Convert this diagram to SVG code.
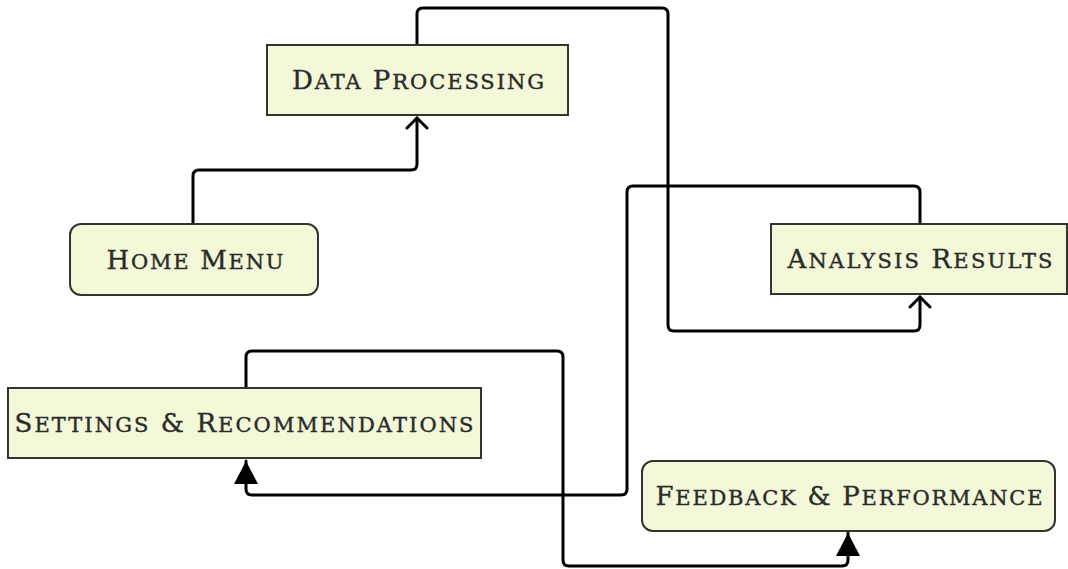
<svg xmlns="http://www.w3.org/2000/svg" width="1068" height="569" viewBox="0 0 1068 569">
  <style>
    .box { fill: #f3f8d8; stroke: #333333; stroke-width: 2; }
    .label { font-family: "DejaVu Serif", "Liberation Serif", serif; font-size: 26px; fill: #2b2b2b; text-anchor: middle; stroke: #2b2b2b; stroke-width: 0.4px; }
    .sc { font-size: 21px; }
    .edge { fill: none; stroke: #000000; stroke-width: 3; stroke-linejoin: round; stroke-linecap: round; }
  </style>
  <defs>
    <marker id="open" viewBox="0 0 24 24" refX="18" refY="12" markerWidth="24" markerHeight="24" markerUnits="userSpaceOnUse" orient="auto">
      <path d="M8,2 L18,12 L8,22" fill="none" stroke="#000" stroke-width="3" stroke-linecap="round" stroke-linejoin="miter"/>
    </marker>
    <marker id="solid" viewBox="0 0 24 26" refX="23" refY="13" markerWidth="24" markerHeight="26" markerUnits="userSpaceOnUse" orient="auto">
      <path d="M23,13 L0,1 L0,25 Z" fill="#000"/>
    </marker>
  </defs>

  <!-- connectors -->
  <g id="connectors">
    <path class="edge" d="M193,224 V176 Q193,170 199,170 H411 Q417,170 417,164 V118" marker-end="url(#open)"/>
    <path class="edge" d="M417,44 V14 Q417,8 423,8 H662 Q668,8 668,14 V325 Q668,331 674,331 H914 Q920,331 920,325 V297" marker-end="url(#open)"/>
    <path class="edge" d="M920,223 V192 Q920,186 914,186 H633 Q627,186 627,192 V489 Q627,495 621,495 H252 Q246,495 246,489 V461" marker-end="url(#solid)"/>
    <path class="edge" d="M246,388 V357 Q246,351 252,351 H557 Q563,351 563,357 V560 Q563,566 569,566 H842 Q848,566 848,560 V533" marker-end="url(#solid)"/>
  </g>

  <g id="data-processing">
    <rect class="box" x="267" y="45" width="301" height="70"/>
    <text class="label" x="418" y="89" textLength="252">D<tspan class="sc">ATA</tspan> P<tspan class="sc">ROCESSING</tspan></text>
  </g>
  <g id="home-menu">
    <rect class="box" x="70" y="224" width="248" height="71" rx="11"/>
    <text class="label" x="195" y="269" textLength="177">H<tspan class="sc">OME</tspan> M<tspan class="sc">ENU</tspan></text>
  </g>
  <g id="analysis-results">
    <rect class="box" x="771" y="224" width="296" height="70"/>
    <text class="label" x="920" y="268" textLength="265">A<tspan class="sc">NALYSIS</tspan> R<tspan class="sc">ESULTS</tspan></text>
  </g>
  <g id="settings-recommendations">
    <rect class="box" x="8" y="388" width="473" height="70"/>
    <text class="label" x="244" y="432" textLength="459">S<tspan class="sc">ETTINGS</tspan> &amp; R<tspan class="sc">ECOMMENDATIONS</tspan></text>
  </g>
  <g id="feedback-performance">
    <rect class="box" x="642" y="461" width="413" height="70" rx="11"/>
    <text class="label" x="849" y="505" textLength="387">F<tspan class="sc">EEDBACK</tspan> &amp; P<tspan class="sc">ERFORMANCE</tspan></text>
  </g>
</svg>
